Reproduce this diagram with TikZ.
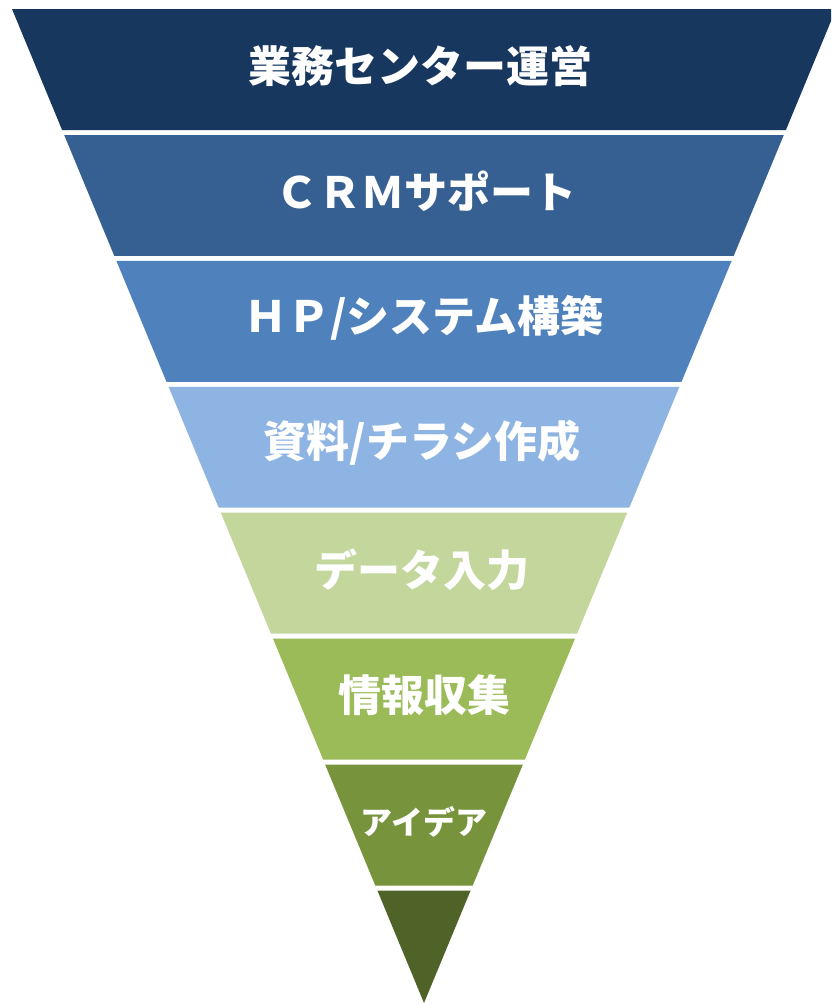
\documentclass[tikz,border=0pt]{standalone}
\usepackage{fontspec}
\newfontfamily\jpfont{Noto Sans CJK JP}
\usepackage{tikz}
\usetikzlibrary{positioning}

\definecolor{navy}{HTML}{17375E}
\definecolor{steel}{HTML}{376092}
\definecolor{midblue}{HTML}{4F81BD}
\definecolor{skyblue}{HTML}{8EB4E3}
\definecolor{palegreen}{HTML}{C3D69B}
\definecolor{leafgreen}{HTML}{9BBB59}
\definecolor{olive}{HTML}{77933C}
\definecolor{darkolive}{HTML}{4F6228}

\tikzset{
  label/.style={text=white,font=\jpfont\bfseries\fontsize{43}{47}\selectfont,inner sep=0pt},
  smalllabel/.style={label,font=\jpfont\bfseries\fontsize{32}{36}\selectfont}
}

\begin{document}
\begin{tikzpicture}[x=1pt,y=-1pt]
\clip (0,0) rectangle (831,1004);
\fill[white] (0,0) rectangle (831,1004);
% funnel bands, top to bottom
\fill[navy] (12,9)--(836,9)--(785.9,130)--(62.1,130)--cycle;
\fill[steel] (64.2,135)--(783.8,135)--(733.7,255.9)--(114.3,255.9)--cycle;
\fill[midblue] (116.4,260.9)--(731.6,260.9)--(681.5,381.8)--(166.5,381.8)--cycle;
\fill[skyblue] (168.6,386.8)--(679.4,386.8)--(629.3,507.7)--(218.7,507.7)--cycle;
\fill[palegreen] (220.8,512.7)--(627.2,512.7)--(577.1,633.6)--(270.9,633.6)--cycle;
\fill[leafgreen] (273,638.6)--(575,638.6)--(524.9,759.5)--(323.1,759.5)--cycle;
\fill[olive] (325.1,764.5)--(522.9,764.5)--(472.7,885.5)--(375.3,885.5)--cycle;
\fill[darkolive] (377.4,890.5)--(470.6,890.5)--(424,1003)--cycle;
% labels
\node[label] (ops) at (420,66) {業務センター運営};
\node[label] (crm) at (426,191) {ＣＲＭサポート};
\node[label] (hp) at (424,318) {ＨＰ/システム構築};
\node[label] (doc) at (422,443) {資料/チラシ作成};
\node[label] (data) at (422,570) {データ入力};
\node[label] (info) at (424,695) {情報収集};
\node[smalllabel] (idea) at (424,822) {アイデア};
\end{tikzpicture}
\end{document}
